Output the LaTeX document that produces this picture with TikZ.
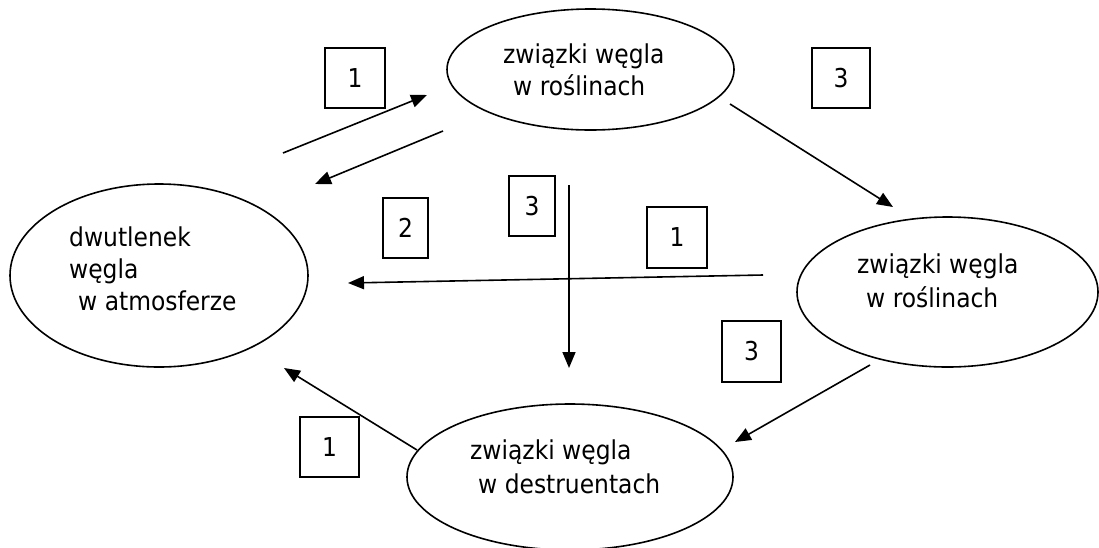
\documentclass[tikz,border=0pt]{standalone}
\usepackage{fontspec}
\usetikzlibrary{shapes.geometric,arrows.meta}
\newfontfamily\labelfont[FakeStretch=0.9]{DejaVu Sans}

\tikzset{
  blob/.style={draw, ellipse, line width=1.6pt, inner sep=0pt},
  lbl/.style={anchor=base west, inner sep=0pt, font=\labelfont\fontsize{26}{32}\selectfont},
  numbox/.style={draw, line width=1.6pt, inner sep=0pt, font=\labelfont\fontsize{26}{32}\selectfont},
  flow/.style={line width=1.6pt, -{Triangle[length=16pt,width=13pt]}}
}

\begin{document}
\begin{tikzpicture}[x=1pt,y=-1pt]
\useasboundingbox (0,0) rectangle (1099,547);

% the four carbon reservoirs
\node[blob, minimum width=287pt, minimum height=121pt] (plantsA) at (590.5,69.5) {};
\node[blob, minimum width=298pt, minimum height=183pt] (air) at (159,275.5) {};
\node[blob, minimum width=301pt, minimum height=150pt] (plantsB) at (947.5,292) {};
\node[blob, minimum width=326pt, minimum height=146pt] (decomp) at (570,477) {};

% reservoir labels
\node[lbl] (tA1) at (503,63) {związki węgla};
\node[lbl] (tA2) at (513,95) {w roślinach};
\node[lbl] (tL1) at (69,246) {dwutlenek};
\node[lbl] (tL2) at (69,278) {węgla};
\node[lbl] (tL3) at (78,310) {w atmosferze};
\node[lbl] (tR1) at (857,273) {związki węgla};
\node[lbl] (tR2) at (866,307) {w roślinach};
\node[lbl] (tD1) at (470,459) {związki węgla};
\node[lbl] (tD2) at (478,493) {w destruentach};

% process numbers
\node[numbox, minimum width=60pt, minimum height=60pt] (n1a) at (355,78) {1};
\node[numbox, minimum width=45pt, minimum height=60pt] (n2) at (405.5,228) {2};
\node[numbox, minimum width=46pt, minimum height=60pt] (n3a) at (532,206) {3};
\node[numbox, minimum width=60pt, minimum height=61pt] (n1b) at (677,237.5) {1};
\node[numbox, minimum width=58pt, minimum height=60pt] (n3b) at (841,78) {3};
\node[numbox, minimum width=59pt, minimum height=61pt] (n3c) at (751.5,351.5) {3};
\node[numbox, minimum width=59pt, minimum height=60pt] (n1c) at (329.5,447) {1};

% connector end points
\coordinate (a1s) at (283,153);  \coordinate (a1e) at (427,95);
\coordinate (a2s) at (443,131);  \coordinate (a2e) at (315,184);
\coordinate (a3s) at (730,104);  \coordinate (a3e) at (893,207);
\coordinate (a4s) at (569,185);  \coordinate (a4e) at (569,368);
\coordinate (a5s) at (763,275);  \coordinate (a5e) at (348,283);
\coordinate (a6s) at (870,365);  \coordinate (a6e) at (735,442);
\coordinate (a7s) at (417,450);  \coordinate (a7e) at (284,368);

% carbon flows
\draw[flow] (a1s) -- (a1e);
\draw[flow] (a2s) -- (a2e);
\draw[flow] (a3s) -- (a3e);
\draw[flow] (a4s) -- (a4e);
\draw[flow] (a5s) -- (a5e);
\draw[flow] (a6s) -- (a6e);
\draw[flow] (a7s) -- (a7e);
\end{tikzpicture}
\end{document}
